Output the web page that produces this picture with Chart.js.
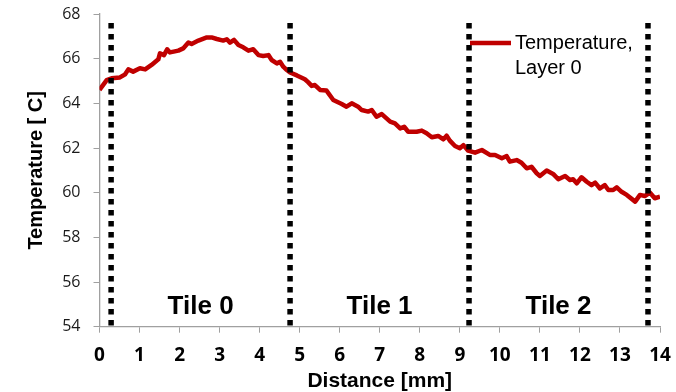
<!DOCTYPE html>
<html><head><meta charset="utf-8">
<script src="https://cdn.jsdelivr.net/npm/chart.js@4/dist/chart.umd.min.js"></script>
<style>html,body{margin:0;padding:0;background:#fff}</style>
</head><body>
<canvas id="c" width="676" height="392" style="display:block;width:676px;height:392px"></canvas>
<script>
const distance = [0,0.18,0.30,0.51,0.64,0.72,0.84,1.01,1.14,1.30,1.47,1.51,1.61,1.69,1.76,1.97,2.09,2.22,2.30,2.47,2.68,2.80,2.93,3.09,3.18,3.26,3.36,3.47,3.59,3.72,3.84,3.97,4.09,4.22,4.30,4.43,4.51,4.59,4.68,4.76,4.93,5.13,5.21,5.30,5.38,5.51,5.67,5.84,6.05,6.17,6.30,6.46,6.55,6.71,6.80,6.92,7.05,7.26,7.38,7.51,7.61,7.71,7.92,8.05,8.17,8.30,8.46,8.59,8.67,8.75,8.88,9.00,9.09,9.21,9.38,9.55,9.75,9.88,10.05,10.17,10.25,10.42,10.54,10.67,10.79,10.92,11.00,11.17,11.33,11.46,11.63,11.75,11.83,11.92,12.04,12.17,12.29,12.38,12.50,12.62,12.71,12.83,12.92,13.04,13.17,13.38,13.50,13.62,13.75,13.87,14.00];
const temperature = [64.6,65.04,65.12,65.16,65.3,65.52,65.42,65.57,65.52,65.72,65.97,66.24,66.16,66.42,66.28,66.36,66.46,66.72,66.66,66.81,66.95,66.95,66.88,66.81,66.87,66.72,66.84,66.61,66.51,66.36,66.42,66.16,66.12,66.16,65.94,65.79,65.86,65.64,65.49,65.38,65.25,65.08,64.95,64.78,64.82,64.6,64.57,64.15,63.97,63.85,64.0,63.85,63.7,63.63,63.7,63.4,63.52,63.18,63.1,62.88,62.95,62.73,62.73,62.78,62.66,62.48,62.54,62.39,62.55,62.33,62.09,61.99,62.13,61.88,61.79,61.91,61.69,61.69,61.54,61.64,61.39,61.46,61.34,61.09,61.16,60.87,60.75,60.99,60.84,60.6,60.75,60.57,60.6,60.42,60.69,60.49,60.34,60.45,60.19,60.34,60.12,60.12,60.24,60.04,59.9,59.6,59.9,59.85,60.0,59.75,59.82];
const tileBoundaries = [0.29, 4.76, 9.23, 13.70];
const tileLabels = ['Tile 0', 'Tile 1', 'Tile 2'];
const tileLabelY = 54.9;
const dividerRange = [67.6, 54];
const seriesLabel = ['Temperature,', 'Layer 0'];
const xTitle = 'Distance [mm]';
const yTitle = 'Temperature [ C]';
const xRange = [0, 14];
const yRange = [54, 68];

const RED = '#c00000';
const AXIS = '#a0a0a0';

const dividerSets = tileBoundaries.map(b => ({
  label: 'divider',
  data: dividerRange.map(v => ({x: b, y: v})),
  borderColor: '#000',
  borderWidth: 5.5,
  borderDash: [5.6, 5.4],
  borderCapStyle: 'butt',
  pointRadius: 0,
  order: 0
}));

const overlay = {
  id: 'overlay',
  afterDatasetsDraw(chart) {
    const ctx = chart.ctx;
    const xs = chart.scales.x, ys = chart.scales.y;
    ctx.save();
    ctx.fillStyle = '#000';
    ctx.font = 'bold 26px "Liberation Sans", Arial, sans-serif';
    ctx.textAlign = 'center';
    ctx.textBaseline = 'middle';
    tileLabels.forEach((t, i) => {
      const mid = (tileBoundaries[i] + tileBoundaries[i + 1]) / 2;
      ctx.fillText(t, xs.getPixelForValue(mid), ys.getPixelForValue(tileLabelY));
    });
    ctx.strokeStyle = RED;
    ctx.lineWidth = 4.5;
    ctx.lineCap = 'butt';
    ctx.beginPath();
    ctx.moveTo(470, 43);
    ctx.lineTo(511, 43);
    ctx.stroke();
    ctx.font = '20px "Liberation Sans", Arial, sans-serif';
    ctx.textAlign = 'left';
    ctx.fillText(seriesLabel[0], 515, 43);
    ctx.fillText(seriesLabel[1], 515, 68);
    ctx.restore();
  }
};

new Chart(document.getElementById('c'), {
  type: 'line',
  data: {
    datasets: [
      ...dividerSets,
      {
        label: seriesLabel.join(' '),
        data: distance.map((d, i) => ({x: d, y: temperature[i]})),
        borderColor: RED,
        borderWidth: 4.5,
        pointRadius: 0,
        tension: 0,
        borderJoinStyle: 'round',
        order: 1
      }
    ]
  },
  options: {
    responsive: false,
    animation: false,
    devicePixelRatio: 1,
    layout: {padding: {left: 0, right: 16, top: 14, bottom: 0}},
    plugins: {legend: {display: false}, tooltip: {enabled: false}},
    scales: {
      x: {
        type: 'linear',
        min: xRange[0], max: xRange[1],
        afterFit(s) { s.height = 65.3; s.paddingLeft = 0; s.paddingRight = 0; },
        ticks: {stepSize: 1, padding: 11, color: '#000', font: {family: '"Open Sans", sans-serif', size: 19, weight: 'bold'}, maxRotation: 0, autoSkip: false},
        grid: {drawOnChartArea: false, tickLength: 6, color: AXIS},
        border: {color: AXIS, width: 1.3},
        title: {display: true, text: xTitle, color: '#000', padding: 0, font: {family: '"Liberation Sans", Arial, sans-serif', size: 21, weight: 'bold', lineHeight: 1}}
      },
      y: {
        min: yRange[0], max: yRange[1],
        afterFit(s) { s.width = 99.5; s.paddingTop = 0; s.paddingBottom = 0; },
        ticks: {stepSize: 2, padding: 13, color: '#1a1a1a', font: {family: '"Open Sans", sans-serif', size: 16}},
        grid: {drawOnChartArea: false, tickLength: 6, color: AXIS},
        border: {color: AXIS, width: 1.3},
        title: {display: true, text: yTitle, color: '#000', padding: {top: 24, bottom: 0}, font: {family: '"Liberation Sans", Arial, sans-serif', size: 20, weight: 'bold', lineHeight: 1.2}}
      }
    }
  },
  plugins: [overlay]
});
</script>
</body></html>
